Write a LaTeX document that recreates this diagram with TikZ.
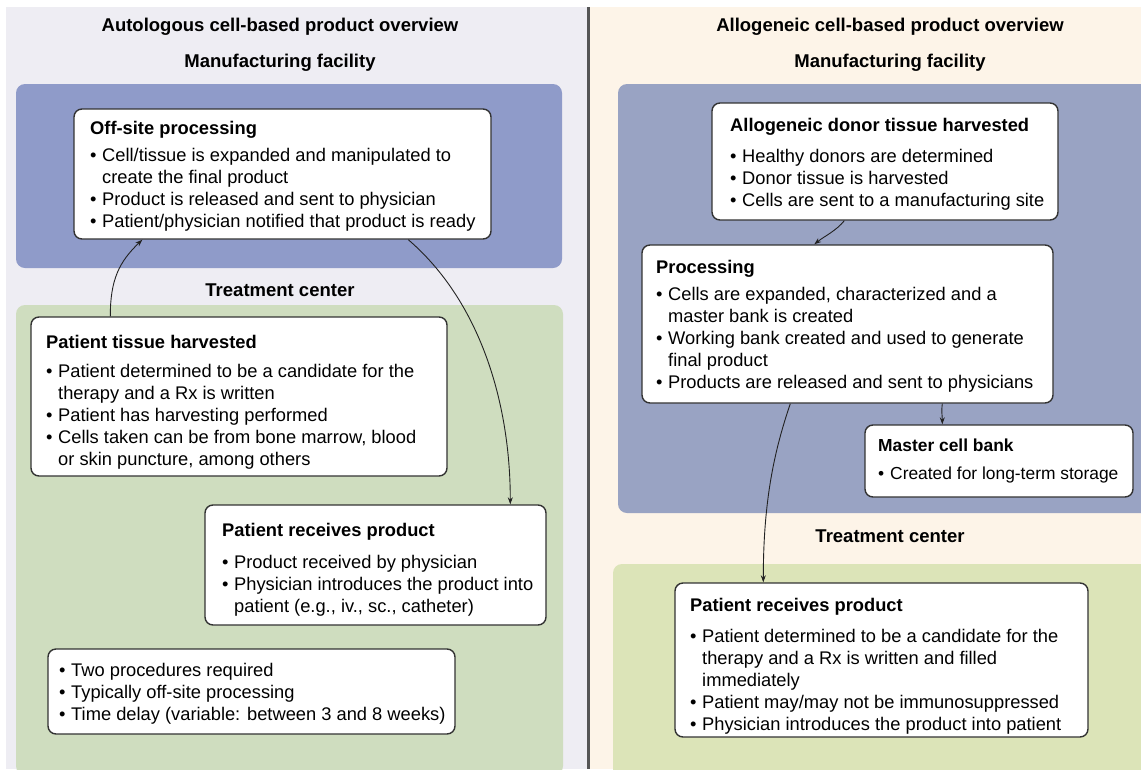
\documentclass[tikz,border=0pt]{standalone}
\usepackage{fontspec}
\setmainfont{Liberation Sans}
\usetikzlibrary{fit,arrows.meta}

\definecolor{lavbg}{HTML}{EEEDF3}
\definecolor{beigebg}{HTML}{FDF4E8}
\definecolor{blueL}{HTML}{8F9BC9}
\definecolor{blueR}{HTML}{99A3C3}
\definecolor{greenL}{HTML}{CFDDBF}
\definecolor{greenR}{HTML}{DCE4B8}
\definecolor{boxline}{HTML}{333333}
\definecolor{divline}{HTML}{555555}
\definecolor{arrowc}{HTML}{222222}

% bullet line and continuation indent
\newcommand\bul{\makebox[12pt][l]{•}}
\newcommand\ind{\hspace*{12pt}}
\newcommand\boxtext[2][18.3]{\begin{minipage}[t]{480pt}\raggedright\fontsize{#1}{22}\selectfont #2\end{minipage}}

\tikzset{
  area/.style={rounded corners=9pt, inner sep=0pt, draw=none, fit={#1}},
  wbox/.style={draw=boxline, line width=1.4pt, fill=white, rounded corners=8pt, inner sep=0pt, fit={#1}},
  title/.style={font=\fontsize{18.5}{22}\selectfont\bfseries, inner sep=0pt},
  txt/.style={anchor=base west, inner sep=0pt},
  flow/.style={draw=arrowc, line width=0.9pt, -{Stealth[length=7pt,width=5pt]}},
}

\begin{document}
\begin{tikzpicture}[x=1pt,y=-1pt]
\useasboundingbox (0,0) rectangle (1141,769);
\fill[white] (0,0) rectangle (1141,769);

% two half panels and the divider
\fill[lavbg] (6,7) rectangle (587,769);
\fill[beigebg] (590,7) rectangle (1141,769);
\draw[divline, line width=2.5pt] (588.5,7) -- (588.5,769);

% ---------- autologous side ----------
\node[title] (tL) at (280,27) {Autologous cell-based product overview};
\node[title] (mL) at (280,63) {Manufacturing facility};
\node[area={(16,84) (562,268)}, fill=blueL] (manL) {};
\node[title] (cL) at (280,290) {Treatment center};
\node[area={(16,305) (563,775)}, fill=greenL] (treatL) {};

\node[wbox={(74,109) (491,239)}] (off) {};
\node[txt] at (90,134.5) {\boxtext{\textbf{Off-site processing}\\[5pt]
\bul Cell/tissue is expanded and manipulated to\\
\ind create the final product\\
\bul Product is released and sent to physician\\
\bul Patient/physician notified that product is ready}};

\node[wbox={(31,317) (447,476)}] (tissue) {};
\node[txt] at (46,348.5) {\boxtext{\textbf{Patient tissue harvested}\\[7pt]
\bul Patient determined to be a candidate for the\\
\ind therapy and a Rx is written\\
\bul Patient has harvesting performed\\
\bul Cells taken can be from bone marrow, blood\\
\ind or skin puncture, among others}};

\node[wbox={(205,505) (546,625)}] (recL) {};
\node[txt] at (222,536.5) {\boxtext{\textbf{Patient receives product}\\[9.5pt]
\bul Product received by physician\\
\bul Physician introduces the product into\\
\ind patient (e.g., iv., sc., catheter)}};

\node[wbox={(48,649) (455,734)}] (notes) {};
\node[txt] at (59,676.5) {\boxtext{\bul Two procedures required\\
\bul Typically off-site processing\\
\bul Time delay (variable: between 3 and 8 weeks)}};

\draw[flow] ([xshift=80pt]tissue.north west) .. controls +(0,-37) and +(-23,22) .. ([xshift=69pt]off.south west);
\draw[flow] ([xshift=335pt]off.south west) .. controls +(71,61) and +(0,-103) .. ([xshift=306pt]recL.north west);

% ---------- allogeneic side ----------
\node[title] (tR) at (890,27) {Allogeneic cell-based product overview};
\node[title] (mR) at (890,63) {Manufacturing facility};
\node[area={(618,84) (1160,513)}, fill=blueR] (manR) {};
\node[title] (cR) at (890,536) {Treatment center};
\node[area={(613,564) (1160,780)}, fill=greenR] (treatR) {};

\node[wbox={(712,103) (1058,220)}] (donor) {};
\node[txt] at (730,131.5) {\boxtext{\textbf{Allogeneic donor tissue harvested}\\[9pt]
\bul Healthy donors are determined\\
\bul Donor tissue is harvested\\
\bul Cells are sent to a manufacturing site}};

\node[wbox={(642,245) (1053,403)}] (proc) {};
\node[txt] at (656,273.5) {\boxtext{\textbf{Processing}\\[5pt]
\bul Cells are expanded, characterized and a\\
\ind master bank is created\\
\bul Working bank created and used to generate\\
\ind final product\\
\bul Products are released and sent to physicians}};

\node[wbox={(865,425) (1133,497)}] (master) {};
\node[txt] at (878,451.5) {\boxtext[17.4]{\textbf{Master cell bank}\\[6pt]
\bul Created for long-term storage}};

\node[wbox={(675,583) (1088,737)}] (recR) {};
\node[txt] at (690,611.5) {\boxtext{\textbf{Patient receives product}\\[9pt]
\bul Patient determined to be a candidate for the\\
\ind therapy and a Rx is written and filled\\
\ind immediately\\
\bul Patient may/may not be immunosuppressed\\
\bul Physician introduces the product into patient}};

\draw[flow] ([xshift=133pt]donor.south west) .. controls +(-8,10) and +(10,-8) .. ([xshift=173pt]proc.north west);
\draw[flow] ([xshift=301pt]proc.south west) .. controls +(-1,8) and +(0,-8) .. ([xshift=78pt]master.north west);
\draw[flow] ([xshift=149pt]proc.south west) .. controls +(-16,47) and +(0,-82) .. ([xshift=89pt]recR.north west);
\end{tikzpicture}
\end{document}
